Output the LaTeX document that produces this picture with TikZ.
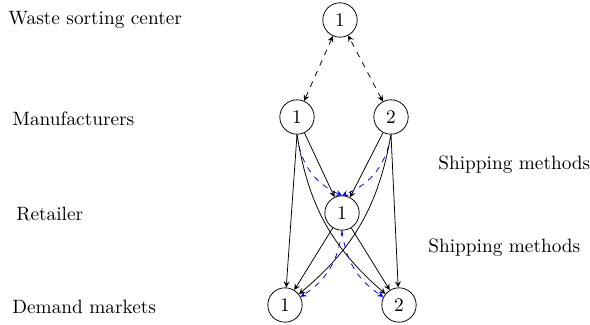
\documentclass[tikz,border=0pt]{standalone}
\usetikzlibrary{arrows}
\begin{document}
\begin{tikzpicture}[x=0.518pt,y=-0.518pt,>=stealth,
  nd/.style={circle,draw,minimum size=17.8pt,inner sep=0pt},
  lbl/.style={anchor=west,inner sep=0pt},
  ship/.style={->},
  alt/.style={->,blue,dashed},
  back/.style={<->,dashed}]
\useasboundingbox (0,0) rectangle (590,325);
% layer labels
\node[lbl] (tw) at (8,20) {Waste sorting center};
\node[lbl] (tm) at (12,119) {Manufacturers};
\node[lbl] (tr) at (16,214) {Retailer};
\node[lbl] (td) at (12,307) {Demand markets};
\node[lbl] (s1) at (438,165) {Shipping methods};
\node[lbl] (s2) at (428,248) {Shipping methods};
% network nodes
\node[nd] (w) at (340,20) {1};
\node[nd] (m1) at (297,117) {1};
\node[nd] (m2) at (391,117) {2};
\node[nd] (r) at (342,213) {1};
\node[nd] (d1) at (285,305) {1};
\node[nd] (d2) at (399,305) {2};
% reverse flow to the sorting center
\draw[back] (m1) -- (w);
\draw[back] (m2) -- (w);
% manufacturers to retailer
\draw[ship] (m1) -- (r);
\draw[ship] (m2) -- (r);
\draw[alt] (m1.south) to[bend right=30] (r.north);
\draw[alt] (m2.south) to[bend left=30] (r.north);
% manufacturers directly to markets
\draw[ship] (m1.south) -- (d1);
\draw[ship] (m2.south) -- (d2);
\draw[ship] (m1.south) to[bend right=20] (d2);
\draw[ship] (m2.south) to[bend left=20] (d1);
% retailer to markets
\draw[ship] (r) -- (d1);
\draw[ship] (r) -- (d2);
\draw[alt] (r.south) to[bend left=25] (d1);
\draw[alt] (r.south) to[bend right=25] (d2);
\end{tikzpicture}
\end{document}
